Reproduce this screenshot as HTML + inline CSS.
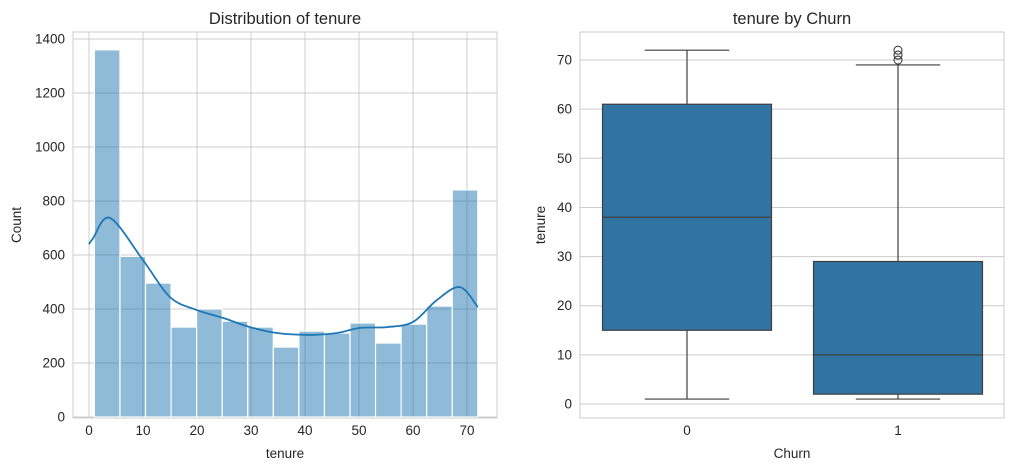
<!DOCTYPE html>
<html><head><meta charset="utf-8"><style>
body{margin:0;background:#fff;}
svg{display:block;font-family:"Liberation Sans","DejaVu Sans",sans-serif;}
</style></head><body>
<svg id="c" width="1014" height="470" xmlns="http://www.w3.org/2000/svg"></svg>
<script>
const histBinStart = 1, histBinEnd = 72;
const histCounts = [1360,595,496,333,400,355,333,259,318,311,348,274,344,411,841];
const kdeX = [0,0.7,3.9,10,15,20,24.8,29.8,34.8,40.9,45.9,50.2,55.2,60,64.4,68.7,72];
const kdeY = [640,660,737,581,444,396,367,333,311,304,311,330,333,352,433,481,407];
const histYTicks = [0,200,400,600,800,1000,1200,1400];
const histXTicks = [0,10,20,30,40,50,60,70];
const boxCats = ["0","1"];
const boxMin = [1,1], boxQ1 = [15,2], boxMed = [38,10], boxQ3 = [61,29], boxMax = [72,69];
const boxOutliers = [[],[70,71,72]];
const boxYTicks = [0,10,20,30,40,50,60,70];

const NS="http://www.w3.org/2000/svg", svg=document.getElementById('c');
function el(t,a,p){const e=document.createElementNS(NS,t);for(const k in a)e.setAttribute(k,a[k]);(p||svg).appendChild(e);return e;}
function txt(x,y,s,a,p){const e=el('text',Object.assign({x:x,y:y,fill:'#262626','font-size':13.5},a),p);e.textContent=s;return e;}

// ---- Left histogram
const L={x0:73,x1:497,y0:32,y1:418};
const hx=v=>89+(v-0)*5.4, hy=v=>417-v*0.27;
const g1=el('g',{});


histYTicks.forEach(t=>{const l=el('line',{x1:L.x0,x2:L.x1,y1:hy(t),y2:hy(t),stroke:'#cccccc'},g1);
 const s=txt(L.x0-8,hy(t)+4.5,String(t),{'text-anchor':'end'},g1);});
histXTicks.forEach(t=>{const l=el('line',{x1:hx(t),x2:hx(t),y1:L.y0,y2:L.y1,stroke:'#cccccc'},g1);
 const s=txt(hx(t),L.y1+17,String(t),{'text-anchor':'middle'},g1);});
const bw=(histBinEnd-histBinStart)/histCounts.length;
histCounts.forEach((c,i)=>{const a=hx(histBinStart+i*bw),b=hx(histBinStart+(i+1)*bw);
 const r=el('rect',{x:a,y:hy(c),width:b-a,height:hy(0)-hy(c),fill:'rgba(31,119,180,0.5)',stroke:'#fff','stroke-width':1.2},g1);
 });
const P=kdeX.map((x,i)=>[hx(x),hy(kdeY[i])]);
let d='M'+P[0][0]+','+P[0][1];
for(let i=0;i<P.length-1;i++){const p0=P[Math.max(0,i-1)],p1=P[i],p2=P[i+1],p3=P[Math.min(P.length-1,i+2)];
 const c1=[p1[0]+(p2[0]-p0[0])/6,p1[1]+(p2[1]-p0[1])/6],c2=[p2[0]-(p3[0]-p1[0])/6,p2[1]-(p3[1]-p1[1])/6];
 d+='C'+c1[0]+','+c1[1]+' '+c2[0]+','+c2[1]+' '+p2[0]+','+p2[1];}
const kp=el('path',{d:d,fill:'none',stroke:'#1f77b4','stroke-width':1.8,'stroke-linejoin':'round'},g1);

const f1=el('rect',{x:L.x0,y:L.y0,width:L.x1-L.x0,height:L.y1-L.y0,fill:'none',stroke:'#cccccc'},g1);

let t1=txt(285,24,'Distribution of tenure',{'text-anchor':'middle','font-size':16.5},g1);
let t2=txt(285,458,'tenure',{'text-anchor':'middle'},g1);
let t3=txt(21,225,'Count',{'text-anchor':'middle',transform:'rotate(-90 21 225)'},g1);

// ---- Right boxplot
const R={x0:580,x1:1004,y0:32,y1:418};
const by=v=>404-v*4.914, bx=i=>687+i*211, half=84.5;
const g2=el('g',{});


boxYTicks.forEach(t=>{const l=el('line',{x1:R.x0,x2:R.x1,y1:by(t),y2:by(t),stroke:'#cccccc'},g2);
 const s=txt(R.x0-8,by(t)+4.5,String(t),{'text-anchor':'end'},g2);});
boxCats.forEach((c,i)=>{const x=bx(i);
 const s=txt(x,R.y1+17,c,{'text-anchor':'middle'},g2);
 const w1=el('line',{x1:x,x2:x,y1:by(boxMin[i]),y2:by(boxQ1[i]),stroke:'#3f3f3f','stroke-width':1.2},g2);
 const w2=el('line',{x1:x,x2:x,y1:by(boxMax[i]),y2:by(boxQ3[i]),stroke:'#3f3f3f','stroke-width':1.2},g2);
 const c1=el('line',{x1:x-half/2,x2:x+half/2,y1:by(boxMin[i]),y2:by(boxMin[i]),stroke:'#3f3f3f','stroke-width':1.2},g2);
 const c2=el('line',{x1:x-half/2,x2:x+half/2,y1:by(boxMax[i]),y2:by(boxMax[i]),stroke:'#3f3f3f','stroke-width':1.2},g2);
 const b=el('rect',{x:x-half,y:by(boxQ3[i]),width:2*half,height:by(boxQ1[i])-by(boxQ3[i]),fill:'#3274a1',stroke:'#3f3f3f','stroke-width':1.2},g2);
 const m=el('line',{x1:x-half,x2:x+half,y1:by(boxMed[i]),y2:by(boxMed[i]),stroke:'#3f3f3f','stroke-width':1.2},g2);
 boxOutliers[i].forEach(o=>{const ci=el('circle',{cx:x,cy:by(o),r:4,fill:'none',stroke:'#3f3f3f','stroke-width':1.1},g2);});
});
const f2=el('rect',{x:R.x0,y:R.y0,width:R.x1-R.x0,height:R.y1-R.y0,fill:'none',stroke:'#cccccc'},g2);

let r1=txt(792,24,'tenure by Churn',{'text-anchor':'middle','font-size':16.5},g2);
let r2=txt(792,458,'Churn',{'text-anchor':'middle'},g2);
let r3=txt(545,225,'tenure',{'text-anchor':'middle',transform:'rotate(-90 545 225)'},g2);
</script>
</body></html>
